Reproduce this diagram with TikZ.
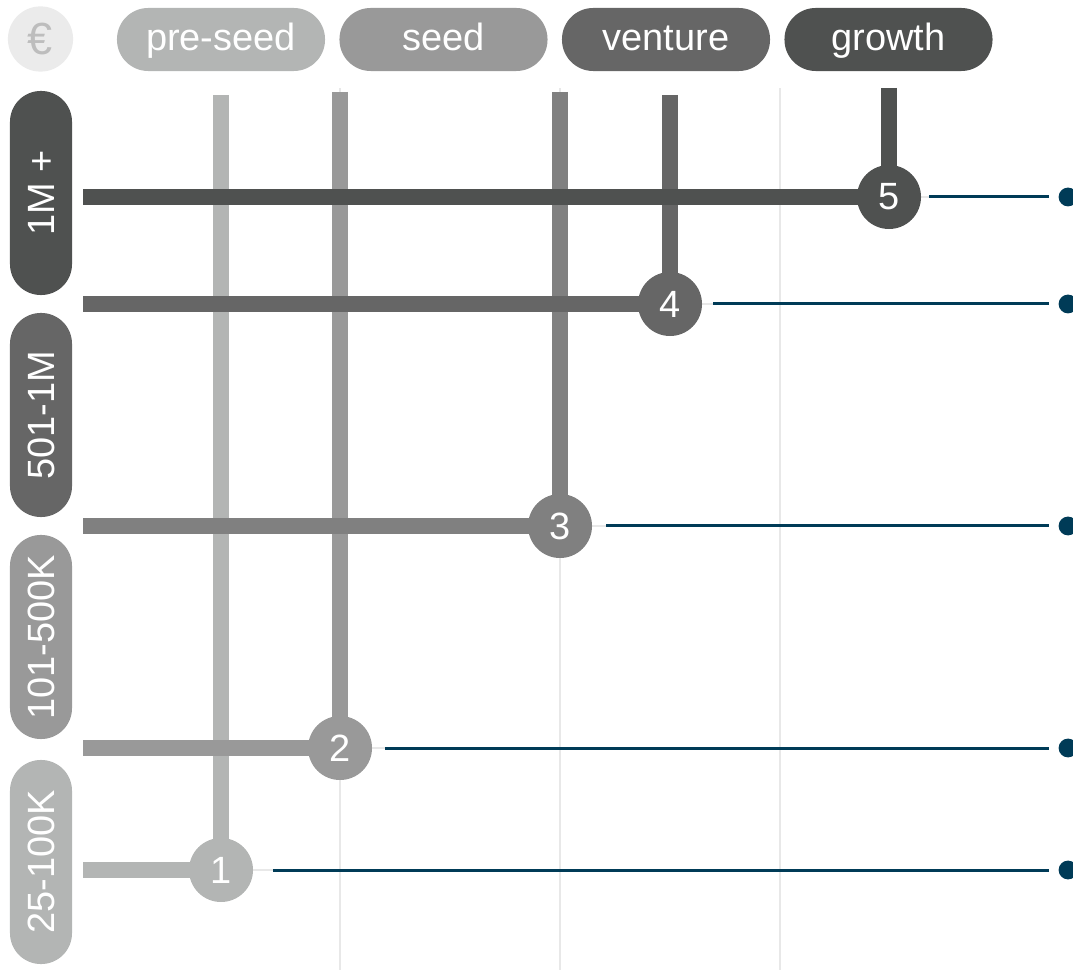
\documentclass[tikz,border=0pt]{standalone}
\usepackage{fontspec}
\setmainfont{Liberation Sans}
\usetikzlibrary{positioning,backgrounds}

\definecolor{lvlA}{HTML}{B3B5B4}
\definecolor{lvlB}{HTML}{999999}
\definecolor{lvlC}{HTML}{808080}
\definecolor{lvlD}{HTML}{666666}
\definecolor{lvlE}{HTML}{4F5150}
\definecolor{gridgray}{HTML}{E8E8E8}
\definecolor{eurobg}{HTML}{EBEBEB}
\definecolor{eurotext}{HTML}{BDBDBD}
\definecolor{navy}{HTML}{003B57}

\begin{document}
\begin{tikzpicture}[x=0.025cm,y=-0.025cm,
  bigfont/.style={font=\fontsize{27}{31}\selectfont},
  stagepill/.style={bigfont,text=white,inner sep=0pt,minimum width=5.2cm,
    minimum height=1.575cm,rounded corners=0.78cm,text height=21pt,text depth=6pt},
  sizepill/.style={bigfont,text=white,inner sep=0pt,rotate=90,minimum width=5.1cm,
    minimum height=1.55cm,rounded corners=0.77cm},
  stepdot/.style={circle,bigfont,text=white,inner sep=0pt,minimum size=1.6cm},
  bar/.style={line width=0.4cm},
  gridline/.style={gridgray,line width=0.06cm},
  navyline/.style={navy,line width=0.075cm,shorten >=0.225cm},
  enddot/.style={circle,fill=navy,inner sep=0pt,minimum size=0.47cm}]
  \useasboundingbox (0,0) rectangle (1073,970);

  % Stage pills (top)
  \node[circle,fill=eurobg,text=eurotext,font=\fontsize{32}{36}\selectfont,inner sep=0pt,minimum size=1.63cm] (euro) at (40.5,39) {€};
  \node[stagepill,fill=lvlA] (preseed) at (221,39.5) {pre-seed};
  \node[stagepill,fill=lvlB] (seed) at (443.5,39.5) {seed};
  \node[stagepill,fill=lvlD] (venture) at (666,39.5) {venture};
  \node[stagepill,fill=lvlE] (growth) at (888.5,39.5) {growth};

  % Size pills (left)
  \node[sizepill,fill=lvlE] (sizeE) at (41,193) {1M +};
  \node[sizepill,fill=lvlD] (sizeD) at (41,415) {501-1M};
  \node[sizepill,fill=lvlB] (sizeB) at (41,637) {101-500K};
  \node[sizepill,fill=lvlA] (sizeA) at (41,862) {25-100K};

  % Step circles
  \node[stepdot,fill=lvlA] (s1) at (221,870) {1};
  \node[stepdot,fill=lvlB] (s2) at (340,748) {2};
  \node[stepdot,fill=lvlC] (s3) at (560,526) {3};
  \node[stepdot,fill=lvlD] (s4) at (670,304) {4};
  \node[stepdot,fill=lvlE] (s5) at (889,197) {5};

  % Bar ends
  \coordinate (t1) at (221,95);
  \coordinate (t2) at (340,92);
  \coordinate (t3) at (560,92);
  \coordinate (t4) at (670,95);
  \coordinate (t5) at (889,88);
  \foreach \i in {1,...,5}
    \coordinate (h\i) at (83,0 |- s\i);

  % Navy leader starts and end dots
  \coordinate (l1) at (273,870);
  \coordinate (l2) at (385,748);
  \coordinate (l3) at (606,526);
  \coordinate (l4) at (713,304);
  \coordinate (l5) at (929,197);
  \foreach \i in {1,...,5}
    \node[enddot] (d\i) at (1068,0 |- s\i) {};

  \begin{pgfonlayer}{background}
    % Background grid
    \foreach \gx in {340,560,780}
      \draw[gridline] (\gx,88) -- (\gx,970);
    % Faint stubs
    \foreach \i in {1,...,5}
      \draw[gridline] (s\i.center) -- (l\i);
    % Vertical bars, then horizontal bars on top
    \foreach \i/\c in {1/lvlA,2/lvlB,3/lvlC,4/lvlD,5/lvlE}
      \draw[bar,\c] (t\i) -- (s\i.center);
    \foreach \i/\c in {1/lvlA,2/lvlB,3/lvlC,4/lvlD,5/lvlE}
      \draw[bar,\c] (h\i) -- (s\i.center);
  \end{pgfonlayer}

  % Navy leaders
  \foreach \i in {1,...,5}
    \draw[navyline] (l\i) -- (d\i);
\end{tikzpicture}
\end{document}
